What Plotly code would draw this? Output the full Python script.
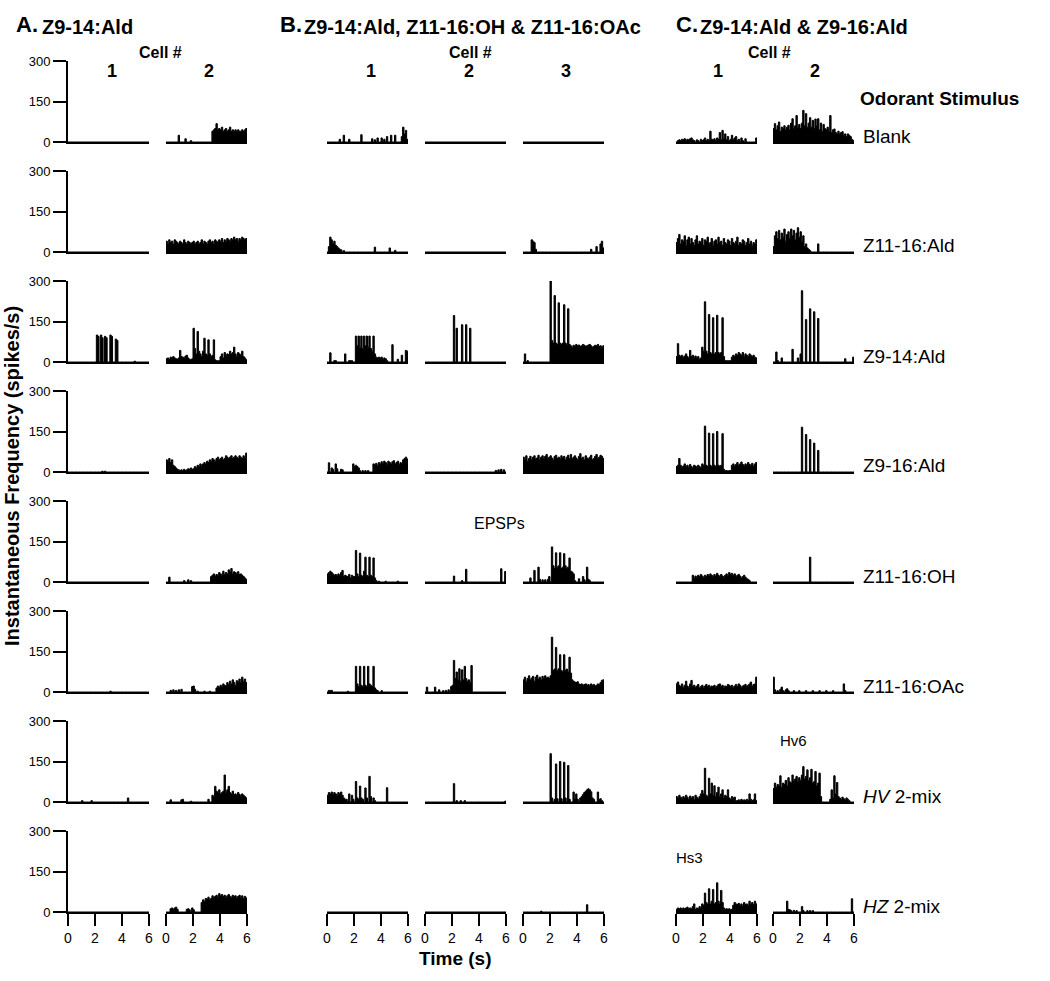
import plotly.graph_objects as go

# Instantaneous frequency (spikes/s), 0.1 s bins from 0 to 6 s (60 values per panel)
# ---- Blank ----
a2_blank = [0, 0, 0, 0, 0, 0, 0, 0, 0, 25, 0, 0, 0, 0, 12, 0, 0, 0, 5, 0,
            0, 0, 0, 0, 0, 0, 0, 0, 0, 0, 0, 0, 0, 0, 40, 45, 50, 68, 45, 50,
            45, 55, 40, 45, 50, 40, 45, 55, 40, 45, 40, 45, 40, 45, 40, 40, 45, 40, 45, 50]
b1_blank = [0, 0, 0, 0, 0, 0, 0, 0, 0, 10, 0, 0, 25, 0, 0, 0, 10, 0, 0, 0,
            0, 0, 0, 0, 0, 27, 0, 0, 0, 0, 0, 0, 0, 12, 0, 8, 0, 15, 0, 0,
            15, 0, 10, 0, 20, 0, 0, 25, 0, 0, 25, 0, 0, 0, 0, 20, 55, 30, 43, 10]
c1_blank = [0, 5, 8, 5, 10, 8, 12, 5, 10, 8, 12, 15, 8, 5, 0, 8, 5, 0, 10, 5,
            8, 15, 5, 10, 5, 40, 10, 8, 12, 5, 15, 10, 35, 8, 43, 12, 30, 8, 20, 5,
            10, 25, 8, 15, 20, 5, 10, 0, 15, 5, 0, 12, 0, 0, 0, 0, 0, 0, 0, 15]
c2_blank = [50, 68, 45, 60, 74, 40, 55, 50, 60, 45, 55, 62, 45, 70, 86, 50, 60, 98, 55, 65,
            50, 70, 117, 60, 105, 55, 70, 90, 55, 80, 50, 85, 60, 86, 45, 70, 40, 65, 50, 45,
            55, 40, 98, 35, 45, 48, 35, 30, 40, 30, 35, 38, 25, 30, 20, 30, 25, 20, 10, 5]
# ---- Z11-16:Ald ----
a2_ald11 = [40, 30, 45, 35, 40, 30, 45, 40, 35, 30, 40, 35, 30, 45, 35, 30, 40, 35, 30, 35,
            40, 30, 35, 40, 30, 35, 45, 30, 40, 35, 30, 40, 45, 35, 40, 30, 45, 40, 35, 45,
            40, 50, 35, 45, 40, 50, 45, 40, 50, 45, 55, 45, 50, 40, 50, 45, 55, 50, 45, 50]
b1_ald11 = [0, 20, 55, 45, 30, 40, 25, 20, 15, 10, 8, 0, 5, 0, 0, 0, 0, 0, 0, 0,
            0, 0, 0, 0, 0, 0, 0, 0, 0, 0, 0, 0, 0, 0, 0, 18, 0, 0, 0, 0,
            0, 0, 0, 0, 0, 0, 15, 0, 0, 0, 6, 0, 0, 0, 0, 0, 0, 0, 0, 0]
b3_ald11 = [0, 0, 0, 0, 0, 0, 45, 40, 35, 10, 0, 0, 0, 0, 0, 0, 0, 0, 0, 0,
            0, 0, 0, 0, 0, 0, 0, 0, 0, 0, 0, 0, 0, 0, 0, 0, 0, 0, 0, 0,
            0, 0, 0, 0, 0, 0, 0, 0, 0, 0, 10, 0, 0, 0, 20, 0, 0, 30, 40, 15]
c1_ald11 = [35, 50, 65, 30, 45, 40, 60, 25, 45, 55, 30, 50, 35, 25, 45, 60, 30, 40, 35, 50,
            25, 45, 40, 55, 30, 35, 50, 25, 40, 45, 30, 55, 35, 40, 25, 50, 35, 30, 45, 40,
            25, 50, 35, 30, 40, 55, 25, 35, 30, 45, 40, 25, 35, 50, 30, 40, 25, 35, 30, 45]
c2_ald11 = [20, 60, 75, 50, 80, 45, 70, 55, 85, 40, 65, 75, 50, 85, 60, 80, 45, 70, 90, 55,
            75, 40, 60, 20, 30, 15, 10, 5, 0, 0, 0, 0, 0, 30, 0, 0, 0, 0, 0, 0,
            0, 0, 0, 0, 0, 0, 0, 0, 0, 0, 0, 0, 0, 0, 0, 0, 0, 0, 0, 0]
# ---- Z9-14:Ald ----
a1_ald14 = [0, 0, 0, 0, 0, 0, 0, 0, 0, 0, 0, 0, 0, 0, 0, 0, 0, 0, 0, 0,
            0, 100, 95, 0, 100, 90, 0, 95, 90, 0, 0, 100, 95, 0, 0, 85, 80, 0, 0, 0,
            0, 0, 0, 0, 0, 0, 0, 0, 0, 3, 0, 0, 0, 0, 0, 0, 0, 0, 0, 0]
a2_ald14 = [12, 15, 10, 18, 15, 20, 15, 12, 10, 15, 43, 20, 18, 15, 22, 25, 15, 10, 8, 12,
            125, 50, 30, 113, 40, 30, 20, 40, 88, 30, 25, 82, 30, 20, 25, 82, 8, 5, 5, 5,
            20, 30, 15, 35, 25, 30, 28, 40, 30, 35, 55, 30, 20, 35, 30, 25, 40, 20, 15, 8]
b1_ald14 = [0, 0, 34, 0, 0, 5, 5, 0, 0, 0, 0, 0, 0, 30, 0, 0, 5, 5, 5, 0,
            0, 96, 60, 96, 55, 96, 50, 96, 60, 96, 55, 96, 50, 40, 96, 30, 18, 15, 18, 15,
            18, 10, 15, 12, 5, 0, 0, 0, 64, 0, 0, 0, 10, 0, 0, 25, 0, 0, 43, 40]
b2_ald14 = [0, 0, 0, 0, 0, 0, 0, 0, 0, 0, 0, 0, 0, 0, 0, 0, 0, 0, 0, 0,
            0, 172, 0, 125, 0, 0, 0, 138, 0, 0, 138, 0, 0, 125, 0, 0, 0, 0, 0, 0,
            0, 0, 0, 0, 0, 0, 0, 0, 0, 0, 0, 0, 0, 0, 0, 0, 0, 0, 0, 0]
b3_ald14 = [0, 30, 0, 5, 0, 0, 0, 0, 0, 0, 0, 0, 0, 0, 0, 0, 0, 0, 0, 0,
            300, 80, 70, 246, 70, 65, 219, 70, 65, 70, 212, 70, 65, 197, 65, 60, 55, 62, 58, 65,
            60, 63, 58, 60, 65, 62, 58, 60, 63, 65, 60, 55, 58, 62, 60, 65, 58, 60, 55, 60]
c1_ald14 = [20, 68, 25, 20, 25, 18, 22, 30, 20, 15, 43, 20, 25, 18, 22, 15, 20, 10, 15, 55,
            40, 223, 40, 30, 176, 35, 30, 164, 30, 35, 173, 35, 30, 35, 164, 20, 5, 5, 5, 5,
            5, 18, 25, 20, 30, 25, 35, 30, 25, 35, 20, 30, 25, 20, 30, 25, 20, 25, 18, 15]
c2_ald14 = [0, 0, 37, 5, 0, 0, 15, 0, 0, 0, 0, 0, 0, 0, 47, 0, 0, 0, 15, 0,
            30, 264, 0, 0, 157, 0, 0, 197, 0, 0, 186, 0, 0, 161, 0, 0, 0, 0, 0, 0,
            0, 0, 0, 0, 0, 0, 0, 0, 0, 0, 0, 0, 0, 12, 0, 0, 0, 0, 0, 18]
# ---- Z9-16:Ald ----
a1_ald916 = [0, 0, 0, 0, 0, 0, 0, 0, 0, 0, 0, 0, 0, 0, 0, 0, 0, 0, 0, 0,
             0, 0, 0, 0, 0, 3, 0, 3, 0, 0, 0, 0, 0, 0, 0, 0, 0, 0, 0, 0,
             0, 0, 0, 0, 0, 0, 0, 0, 0, 0, 0, 0, 0, 0, 0, 0, 0, 0, 0, 0]
a2_ald916 = [45, 40, 50, 35, 45, 25, 20, 15, 10, 8, 5, 8, 5, 10, 5, 8, 12, 10, 15, 10,
             12, 20, 15, 25, 20, 30, 25, 30, 35, 30, 40, 35, 45, 40, 50, 45, 40, 50, 55, 45,
             50, 55, 45, 50, 60, 55, 50, 55, 60, 50, 55, 60, 55, 50, 60, 55, 50, 60, 55, 70]
b1_ald916 = [0, 34, 0, 15, 10, 0, 30, 12, 0, 0, 10, 8, 0, 0, 0, 0, 0, 0, 0, 30,
             20, 25, 20, 15, 5, 0, 5, 0, 5, 0, 5, 0, 0, 0, 30, 28, 32, 25, 35, 30,
             38, 32, 40, 35, 28, 40, 35, 30, 38, 42, 30, 35, 40, 28, 35, 32, 45, 50, 55, 48]
b2_ald916 = [0, 0, 0, 0, 0, 0, 0, 0, 0, 0, 0, 0, 0, 0, 0, 0, 0, 0, 0, 0,
             0, 0, 0, 0, 0, 0, 0, 0, 0, 0, 0, 0, 0, 0, 0, 0, 0, 0, 0, 0,
             0, 0, 0, 0, 0, 0, 0, 0, 0, 0, 0, 0, 6, 0, 8, 0, 10, 0, 8, 0]
b3_ald916 = [55, 45, 60, 40, 50, 58, 45, 55, 60, 48, 52, 62, 45, 55, 60, 50, 58, 65, 48, 55,
             60, 52, 45, 58, 62, 50, 55, 48, 60, 52, 58, 45, 55, 62, 50, 65, 48, 55, 60, 52,
             45, 58, 68, 50, 55, 45, 60, 52, 48, 55, 62, 45, 50, 58, 65, 48, 55, 62, 58, 50]
c1_ald916 = [20, 25, 50, 25, 18, 22, 30, 20, 25, 18, 28, 20, 15, 25, 22, 18, 25, 20, 15, 30,
             25, 170, 25, 20, 144, 25, 20, 142, 25, 20, 150, 25, 20, 25, 142, 10, 5, 5, 5, 5,
             5, 25, 30, 22, 28, 35, 25, 30, 37, 28, 22, 30, 25, 35, 28, 25, 32, 22, 30, 35]
c2_ald916 = [0, 0, 0, 0, 0, 0, 0, 0, 0, 0, 0, 0, 0, 0, 0, 0, 0, 0, 0, 0,
             0, 166, 0, 0, 139, 0, 0, 120, 0, 0, 107, 0, 0, 80, 0, 0, 0, 0, 0, 0,
             0, 0, 0, 0, 0, 0, 0, 0, 0, 0, 0, 0, 0, 0, 0, 0, 0, 0, 0, 0]
# ---- Z11-16:OH ----
a2_oh = [0, 0, 18, 0, 0, 0, 0, 0, 0, 0, 0, 0, 0, 5, 0, 0, 8, 0, 5, 0,
         0, 0, 0, 0, 0, 0, 0, 0, 0, 0, 0, 0, 0, 20, 25, 30, 22, 28, 25, 35,
         30, 25, 40, 28, 35, 30, 45, 38, 50, 30, 38, 35, 30, 38, 28, 30, 25, 20, 15, 10]
b1_oh = [30, 35, 40, 35, 30, 25, 28, 22, 30, 25, 35, 43, 20, 25, 22, 20, 28, 15, 25, 20,
         20, 117, 30, 20, 107, 25, 20, 40, 92, 25, 20, 92, 25, 20, 89, 15, 5, 0, 3, 0,
         0, 0, 0, 3, 0, 0, 0, 0, 0, 0, 0, 0, 3, 0, 0, 0, 0, 0, 0, 0]
b2_oh = [0, 0, 0, 0, 0, 0, 0, 0, 0, 0, 0, 0, 0, 0, 0, 0, 0, 0, 0, 0,
         0, 22, 0, 0, 0, 0, 0, 5, 0, 0, 47, 0, 0, 0, 0, 0, 0, 0, 0, 0,
         0, 0, 0, 0, 0, 0, 0, 0, 0, 0, 0, 0, 0, 0, 0, 0, 49, 0, 0, 39]
b3_oh = [0, 0, 0, 0, 0, 15, 0, 0, 43, 0, 0, 55, 10, 0, 8, 0, 8, 0, 10, 20,
         0, 130, 60, 50, 108, 55, 60, 108, 50, 55, 105, 60, 50, 55, 89, 40, 37, 30, 5, 0,
         0, 12, 0, 0, 20, 8, 0, 55, 10, 5, 0, 0, 0, 0, 0, 0, 0, 0, 0, 0]
c1_oh = [0, 0, 0, 0, 0, 0, 0, 0, 0, 0, 0, 0, 25, 15, 22, 18, 25, 20, 28, 22,
         18, 25, 20, 28, 22, 30, 25, 20, 28, 22, 32, 25, 20, 28, 22, 18, 25, 30, 22, 35,
         28, 32, 25, 30, 20, 25, 28, 22, 15, 20, 25, 18, 12, 10, 5, 0, 0, 0, 0, 0]
c2_oh = [0, 0, 0, 0, 0, 0, 0, 0, 0, 0, 0, 0, 0, 0, 0, 0, 0, 0, 0, 0,
         0, 0, 0, 0, 0, 0, 0, 92, 0, 0, 0, 0, 0, 0, 0, 0, 0, 0, 0, 0,
         0, 0, 0, 0, 0, 0, 0, 0, 0, 0, 0, 0, 0, 0, 0, 0, 0, 0, 0, 0]
# ---- Z11-16:OAc ----
a1_oac = [0, 0, 0, 0, 0, 0, 0, 0, 0, 0, 0, 0, 0, 0, 0, 0, 0, 0, 0, 0,
          0, 0, 0, 0, 0, 0, 0, 0, 0, 0, 0, 3, 0, 0, 0, 0, 0, 0, 0, 0,
          0, 0, 0, 0, 0, 0, 0, 0, 0, 0, 0, 0, 0, 0, 0, 0, 0, 0, 0, 0]
a2_oac = [0, 0, 0, 6, 0, 8, 0, 6, 0, 8, 0, 10, 0, 0, 0, 0, 0, 0, 0, 20,
          22, 10, 0, 3, 0, 0, 0, 0, 3, 0, 0, 0, 3, 0, 0, 0, 0, 15, 22, 18,
          25, 20, 30, 25, 22, 35, 28, 40, 30, 45, 35, 25, 42, 38, 48, 35, 55, 40, 48, 35]
b1_oac = [0, 6, 5, 6, 0, 0, 0, 0, 0, 0, 0, 0, 0, 0, 0, 3, 0, 0, 0, 0,
          0, 95, 30, 20, 95, 25, 20, 95, 25, 20, 95, 30, 25, 20, 95, 15, 8, 5, 0, 0,
          5, 0, 0, 0, 0, 0, 0, 0, 0, 0, 0, 0, 0, 0, 0, 0, 0, 0, 0, 0]
b2_oac = [0, 18, 0, 0, 0, 0, 0, 18, 0, 0, 8, 0, 0, 5, 0, 6, 0, 8, 0, 20,
          25, 117, 50, 74, 45, 86, 40, 82, 45, 95, 50, 40, 45, 35, 98, 0, 0, 0, 0, 0,
          0, 0, 0, 0, 0, 0, 0, 0, 0, 0, 0, 0, 0, 0, 0, 0, 0, 0, 0, 0]
b3_oac = [45, 55, 40, 50, 60, 45, 52, 58, 40, 55, 62, 48, 55, 45, 58, 50, 60, 52, 55, 50,
          60, 203, 80, 85, 165, 80, 86, 138, 80, 75, 138, 80, 85, 75, 129, 70, 45, 40, 37, 35,
          38, 30, 28, 30, 25, 28, 30, 25, 28, 22, 30, 25, 28, 22, 25, 30, 28, 35, 43, 45]
c1_oac = [30, 37, 25, 20, 30, 18, 25, 40, 22, 18, 30, 43, 20, 25, 18, 22, 28, 15, 20, 25,
          18, 22, 28, 20, 25, 18, 22, 20, 25, 18, 22, 28, 30, 20, 25, 18, 22, 20, 28, 25,
          20, 25, 18, 22, 28, 20, 30, 25, 18, 22, 25, 28, 20, 25, 30, 37, 22, 28, 30, 55]
c2_oac = [55, 8, 0, 5, 0, 10, 18, 5, 0, 8, 12, 5, 0, 0, 0, 5, 0, 0, 0, 5,
          0, 0, 0, 0, 5, 0, 0, 0, 0, 5, 0, 0, 0, 0, 5, 0, 0, 0, 0, 5,
          0, 0, 0, 0, 5, 0, 0, 0, 0, 0, 0, 0, 30, 5, 0, 0, 0, 0, 0, 0]
# ---- HV 2-mix ----
a1_hv = [0, 0, 0, 0, 0, 0, 0, 0, 0, 0, 5, 0, 0, 0, 0, 0, 0, 5, 0, 0,
         0, 0, 0, 0, 0, 0, 0, 0, 0, 0, 0, 0, 0, 0, 0, 0, 0, 0, 0, 0,
         0, 0, 0, 0, 15, 0, 0, 0, 0, 0, 0, 0, 0, 0, 0, 0, 0, 0, 0, 0]
a2_hv = [0, 0, 0, 8, 0, 0, 0, 0, 0, 0, 0, 8, 10, 0, 0, 0, 0, 0, 3, 0,
         0, 0, 0, 0, 0, 0, 0, 0, 0, 0, 0, 10, 0, 0, 25, 20, 58, 40, 35, 45,
         30, 35, 40, 100, 35, 45, 58, 35, 30, 40, 28, 30, 25, 35, 28, 22, 30, 25, 20, 15]
b1_hv = [25, 35, 30, 37, 28, 35, 30, 25, 35, 30, 37, 25, 15, 10, 10, 0, 30, 0, 25, 10,
         0, 76, 15, 10, 59, 15, 10, 0, 52, 15, 0, 95, 20, 0, 15, 5, 0, 0, 0, 0,
         0, 0, 0, 0, 53, 0, 0, 0, 0, 0, 0, 0, 0, 0, 0, 0, 0, 0, 0, 0]
b2_hv = [0, 0, 0, 0, 0, 0, 0, 0, 0, 0, 0, 0, 0, 0, 0, 0, 0, 0, 0, 0,
         0, 68, 0, 5, 0, 0, 5, 0, 0, 5, 0, 0, 0, 0, 0, 0, 0, 0, 0, 0,
         0, 0, 0, 0, 0, 0, 0, 0, 0, 0, 0, 0, 0, 0, 0, 0, 0, 0, 0, 3]
b3_hv = [0, 0, 0, 0, 0, 0, 0, 0, 0, 0, 0, 0, 0, 0, 0, 0, 0, 0, 0, 0,
         179, 15, 0, 10, 141, 12, 0, 150, 12, 0, 147, 15, 0, 135, 10, 0, 0, 37, 12, 30,
         10, 0, 15, 20, 28, 35, 40, 45, 49, 45, 38, 15, 10, 0, 0, 37, 10, 12, 5, 0]
c1_hv = [20, 15, 25, 18, 12, 20, 15, 25, 18, 10, 22, 15, 20, 8, 25, 18, 12, 20, 30, 43,
         30, 125, 25, 20, 88, 30, 70, 25, 60, 20, 35, 55, 20, 30, 45, 15, 25, 20, 45, 15,
         10, 20, 15, 18, 5, 5, 8, 5, 10, 5, 8, 5, 10, 5, 30, 10, 5, 8, 30, 5]
c2_hv = [50, 70, 55, 65, 60, 97, 55, 70, 65, 80, 60, 90, 75, 70, 100, 80, 85, 95, 75, 90,
         80, 100, 131, 85, 95, 119, 80, 90, 121, 70, 75, 113, 60, 70, 107, 20, 0, 0, 0, 0,
         0, 0, 10, 45, 15, 97, 30, 72, 20, 15, 10, 18, 12, 8, 15, 10, 5, 0, 0, 0]
# ---- HZ 2-mix ----
a2_hz = [0, 0, 0, 12, 15, 10, 15, 18, 10, 0, 0, 0, 0, 0, 0, 10, 12, 8, 0, 15,
         8, 0, 0, 0, 0, 0, 35, 45, 40, 50, 48, 55, 45, 50, 60, 52, 58, 62, 55, 68,
         60, 65, 58, 62, 55, 60, 65, 58, 55, 62, 58, 60, 52, 58, 62, 55, 60, 50, 58, 52]
b3_hz = [0, 0, 0, 0, 0, 0, 0, 0, 0, 0, 0, 0, 0, 3, 0, 0, 0, 0, 0, 0,
         0, 0, 0, 0, 0, 0, 0, 0, 0, 0, 0, 0, 0, 0, 0, 0, 0, 0, 0, 0,
         0, 0, 0, 0, 0, 0, 0, 27, 0, 0, 0, 0, 0, 0, 0, 0, 0, 0, 0, 0]
c1_hz = [10, 15, 12, 15, 10, 15, 12, 15, 18, 12, 15, 12, 20, 30, 10, 15, 12, 20, 15, 30,
         25, 70, 35, 30, 86, 30, 40, 83, 30, 35, 108, 40, 30, 80, 35, 15, 10, 12, 10, 12,
         8, 10, 25, 35, 30, 28, 32, 25, 30, 22, 35, 28, 30, 25, 40, 30, 35, 28, 40, 30]
c2_hz = [0, 0, 0, 0, 0, 0, 0, 0, 0, 0, 40, 10, 8, 5, 0, 6, 0, 5, 0, 0,
         0, 20, 5, 0, 0, 5, 0, 5, 0, 5, 0, 0, 0, 0, 0, 0, 0, 0, 0, 0,
         0, 0, 0, 0, 0, 0, 0, 0, 0, 0, 0, 0, 0, 0, 0, 0, 0, 0, 49, 0]

odorants = ["Blank", "Z11-16:Ald", "Z9-14:Ald", "Z9-16:Ald", "Z11-16:OH",
            "Z11-16:OAc", "<i>HV</i> 2-mix", "<i>HZ</i> 2-mix"]
time_ticks = [0, 2, 4, 6]
freq_ticks = [0, 150, 300]

# rows = odorants, columns = A1, A2, B1, B2, B3, C1, C2 ([] = no spikes)
panels = [
    [[], a2_blank, b1_blank, [], [], c1_blank, c2_blank],
    [[], a2_ald11, b1_ald11, [], b3_ald11, c1_ald11, c2_ald11],
    [a1_ald14, a2_ald14, b1_ald14, b2_ald14, b3_ald14, c1_ald14, c2_ald14],
    [a1_ald916, a2_ald916, b1_ald916, b2_ald916, b3_ald916, c1_ald916, c2_ald916],
    [[], a2_oh, b1_oh, b2_oh, b3_oh, c1_oh, c2_oh],
    [a1_oac, a2_oac, b1_oac, b2_oac, b3_oac, c1_oac, c2_oac],
    [a1_hv, a2_hv, b1_hv, b2_hv, b3_hv, c1_hv, c2_hv],
    [[], a2_hz, [], [], b3_hz, c1_hz, c2_hz],
]
bin_edges = [i / 10 for i in range(61)]

W, H = 1050, 981
FONT = "Liberation Sans, Arial, sans-serif"
col_left = [68, 166, 327, 425, 523, 676, 773]
panel_w, panel_h = 81, 81
row_base = [142 + 110 * r for r in range(8)]


def px(x):
    return x / W


def py(y):
    return 1 - y / H


fig = go.Figure()
layout = {}
k = 0
for r, row in enumerate(panels):
    for c, vals in enumerate(row):
        k += 1
        xa, ya = f"x{k}", f"y{k}"
        if vals:
            xs, ys = bin_edges, list(vals) + [vals[-1]]
        else:
            xs, ys = [0, 6], [0, 0]  # silent cell: baseline only
        fig.add_trace(go.Scatter(
            x=xs, y=ys, mode="lines",
            line=dict(color="black", width=1, shape="hv"),
            fill="tozeroy", fillcolor="black",
            xaxis=xa, yaxis=ya, hoverinfo="skip", showlegend=False))
        last_row = r == len(panels) - 1
        layout[f"xaxis{k}"] = dict(
            domain=[px(col_left[c]), px(col_left[c] + panel_w)], anchor=ya,
            range=[0, 6], showgrid=False, zeroline=False, showline=True,
            linecolor="black", linewidth=2, fixedrange=True,
            ticks="outside" if last_row else "", tickvals=time_ticks,
            ticklen=12, tickwidth=2, tickcolor="black",
            showticklabels=last_row, tickfont=dict(size=14, color="black"))
        first_col = c == 0
        layout[f"yaxis{k}"] = dict(
            domain=[py(row_base[r]), py(row_base[r] - panel_h)], anchor=xa,
            range=[0, 300], showgrid=False, zeroline=False, visible=first_col,
            showline=first_col, linecolor="black", linewidth=2,
            ticks="outside", tickvals=freq_ticks, ticklen=13, tickwidth=2,
            tickcolor="black", tickfont=dict(size=13, color="black"), fixedrange=True)

ann = []


def label(text, x, y, size, xanchor="left", angle=0):
    ann.append(dict(text=text, x=px(x), y=py(y), xref="paper", yref="paper",
                    xanchor=xanchor, yanchor="middle", showarrow=False, textangle=angle,
                    font=dict(size=size, color="black", family=FONT)))


# panel titles
label("<b>A.</b>", 14, 25, 22)
label("<b>Z9-14:Ald</b>", 40, 27, 20)
label("<b>B.</b>", 278, 25, 22)
label("<b>Z9-14:Ald, Z11-16:OH & Z11-16:OAc</b>", 302, 27, 20)
label("<b>C.</b>", 674, 25, 22)
label("<b>Z9-14:Ald & Z9-16:Ald</b>", 698, 27, 20)
# cell numbers
for cx in [160, 470, 769]:
    label("<b>Cell #</b>", cx, 52, 16, "center")
for name, cx in zip(["1", "2", "1", "2", "3", "1", "2"], [112, 209, 371, 469, 566, 718, 815]):
    label(f"<b>{name}</b>", cx, 71, 18, "center")
label("<b>Odorant Stimulus</b>", 858, 98, 19)
for r, name in enumerate(odorants):
    label(name, 861, row_base[r] - 6, 19)
label("EPSPs", 499, 523, 16, "center")
label("Hv6", 778, 740, 15)
label("Hs3", 674, 857, 15)
label("<b>Time (s)</b>", 455, 958, 19, "center")
label("<b>Instantaneous Frequency (spikes/s)</b>", 12, 476, 20, "center", -90)

fig.update_layout(
    width=W, height=H, margin=dict(l=0, r=0, t=0, b=0, autoexpand=False),
    paper_bgcolor="white", plot_bgcolor="white",
    font=dict(family=FONT, color="black"),
    annotations=ann, **layout)

# drop the browser's default 8px body margin so the figure fills the window exactly
fig.write_html("out.html", config={"displayModeBar": False},
               post_script="document.body.style.margin = '0px';")
